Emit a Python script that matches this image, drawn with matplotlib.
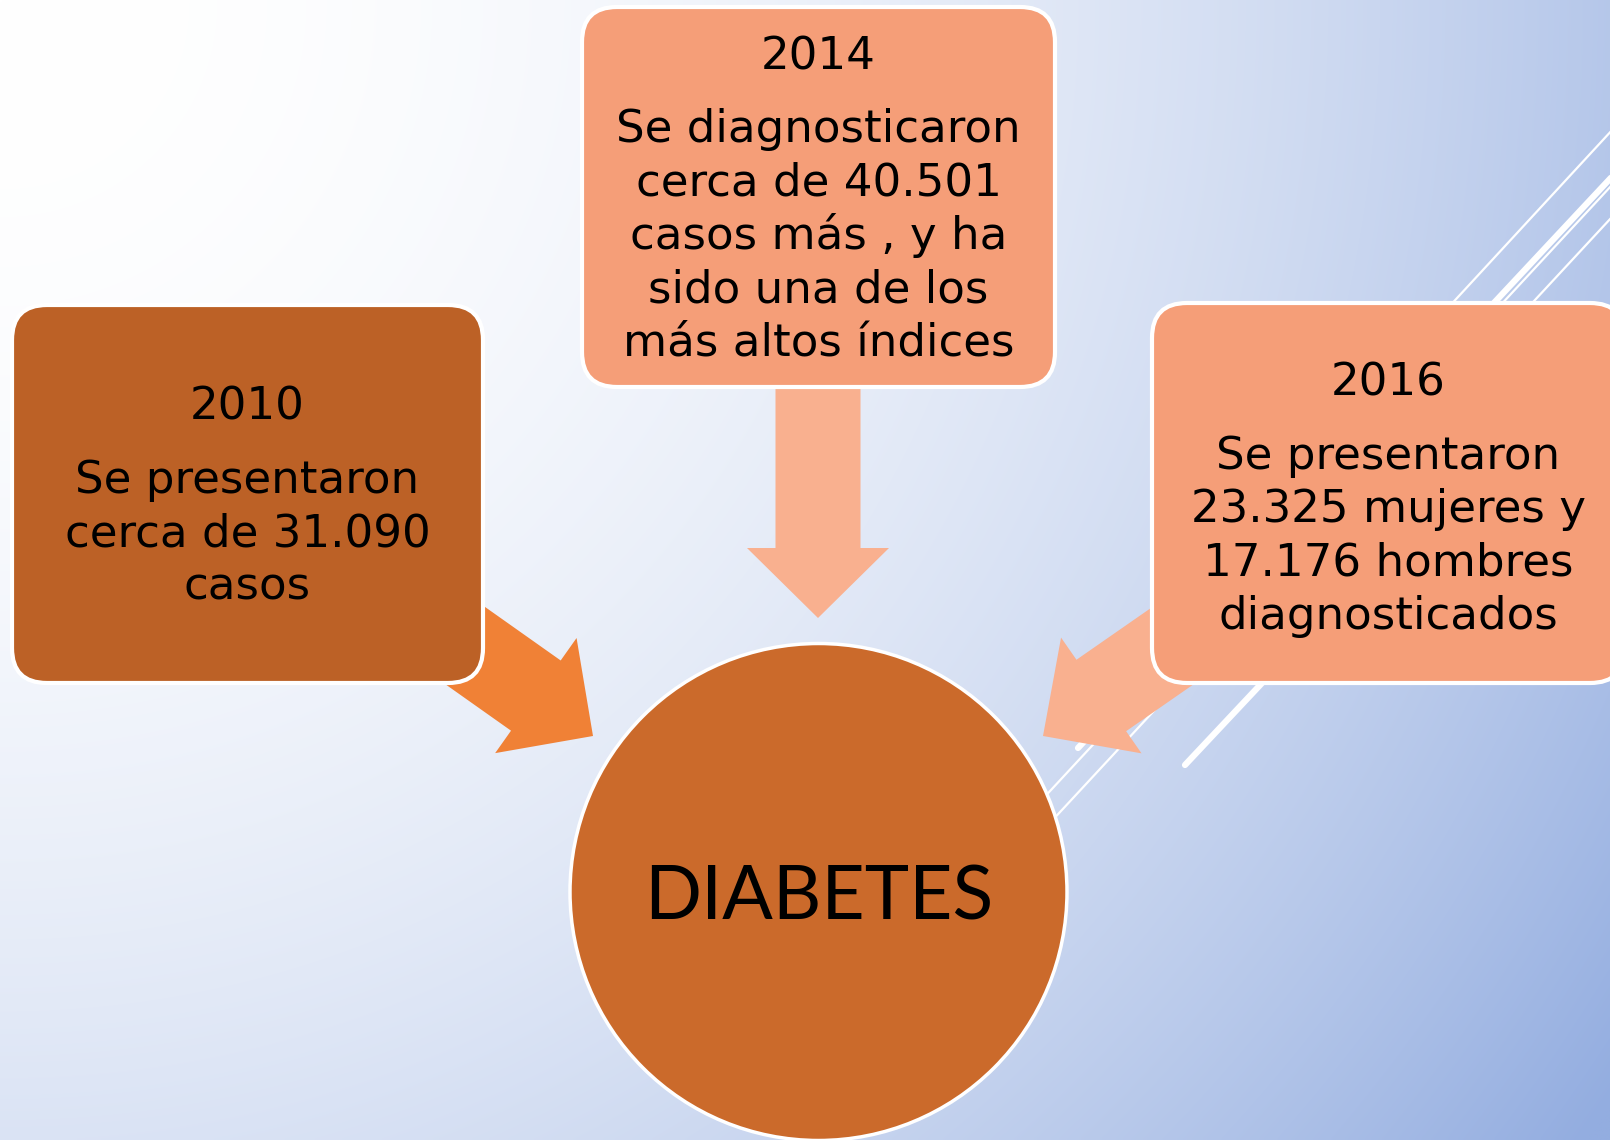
#!/usr/bin/env python3
import numpy as np
import matplotlib
matplotlib.use("Agg")
import matplotlib.pyplot as plt
from matplotlib.patches import FancyBboxPatch, Circle, Polygon

# --- content ---
years = ["2010", "2014", "2016"]
descriptions = [
    ["Se presentaron", "cerca de 31.090", "casos"],
    ["Se diagnosticaron", "cerca de 40.501", "casos más , y ha",
     "sido una de los", "más altos índices"],
    ["Se presentaron", "23.325 mujeres y", "17.176 hombres", "diagnosticados"],
]
center_label = "DIABETES"

# --- layout (pixel coords, y down) ---
W, H = 1610, 1140
box_rects = [(12, 305, 483, 683), (582, 7, 1055, 387), (1152, 303, 1625, 683)]
box_colors = ["#BC6126", "#F59E78", "#F59E78"]
year_base = [420, 70, 396]
first_base = [493, 142, 469]
pitch = 53.4

BODY_FONT = "DejaVu Sans"
BIG_FONT = "Lato"
TEXT_SIZE = 32.5
BIG_SIZE = 54


def block_arrow(ax, tail, tip, shaft_w, head_w, head_len, color, z):
    tail = np.array(tail, float)
    tip = np.array(tip, float)
    d = tip - tail
    d /= np.hypot(*d)
    n = np.array([-d[1], d[0]])
    base = tip - d * head_len
    pts = [tail + n * shaft_w / 2, base + n * shaft_w / 2, base + n * head_w / 2,
           tip, base - n * head_w / 2, base - n * shaft_w / 2, tail - n * shaft_w / 2]
    ax.add_patch(Polygon(pts, closed=True, facecolor=color, edgecolor="none", zorder=z))


fig = plt.figure(figsize=(W / 100, H / 100), dpi=100)
ax = fig.add_axes([0, 0, 1, 1])
ax.set_xlim(0, W)
ax.set_ylim(H, 0)
ax.axis("off")

# background: white in the top-left corner fading to blue at bottom-right
xx, yy = np.meshgrid(np.linspace(0, 1, 400), np.linspace(0, 1, 300))
t = np.clip(0.68 * xx ** 2 + 0.34 * yy ** 2, 0, 1)
blue = np.array([147, 173, 224]) / 255
img = (1 - t[..., None]) * np.ones(3) + t[..., None] * blue
ax.imshow(img, extent=[0, W, H, 0], aspect="auto", zorder=0, interpolation="bilinear")

# decorative diagonal lines
thin = dict(color="white", lw=1.6, solid_capstyle="round", zorder=1)
thick = dict(color="white", lw=4.5, solid_capstyle="round", zorder=1)
ax.plot([1350, 1650], [414, 89], **thin)
ax.plot([1078, 1650], [748, 136], **thick)
ax.plot([1000, 1650], [845, 144], **thin)
ax.plot([1010, 1650], [866, 176], **thin)
ax.plot([1185, 1400], [765, 536], **thick)

# arrows
block_arrow(ax, (429, 620), (593, 736), 86, 141, 70, "#F08136", 2)
block_arrow(ax, (818, 380), (818, 618), 85, 142, 70, "#F9B08F", 2)
block_arrow(ax, (1207, 622), (1043, 736), 87, 141, 71, "#F9B08F", 2)

# boxes + text
for (x0, y0, x1, y1), col, yr, lines, yb, fb in zip(
        box_rects, box_colors, years, descriptions, year_base, first_base):
    ax.add_patch(FancyBboxPatch((x0, y0), x1 - x0, y1 - y0,
                                boxstyle="round,pad=0,rounding_size=35",
                                facecolor=col, edgecolor="white", lw=3, zorder=3))
    cx = (x0 + x1) / 2
    ax.text(cx, yb, yr, ha="center", va="baseline", fontsize=TEXT_SIZE,
            family=BODY_FONT, color="black", zorder=4)
    for i, s in enumerate(lines):
        ax.text(cx, fb + i * pitch, s, ha="center", va="baseline",
                fontsize=TEXT_SIZE, family=BODY_FONT, color="black", zorder=4)

# center circle
ax.add_patch(Circle((818.5, 892), 248.5, facecolor="#CB6A2B", edgecolor="white",
                    lw=2.5, zorder=3))
ax.text(818.5, 920, center_label, ha="center", va="baseline", fontsize=BIG_SIZE,
        family=BIG_FONT, color="black", zorder=4)

fig.savefig("out.png", dpi=100)
